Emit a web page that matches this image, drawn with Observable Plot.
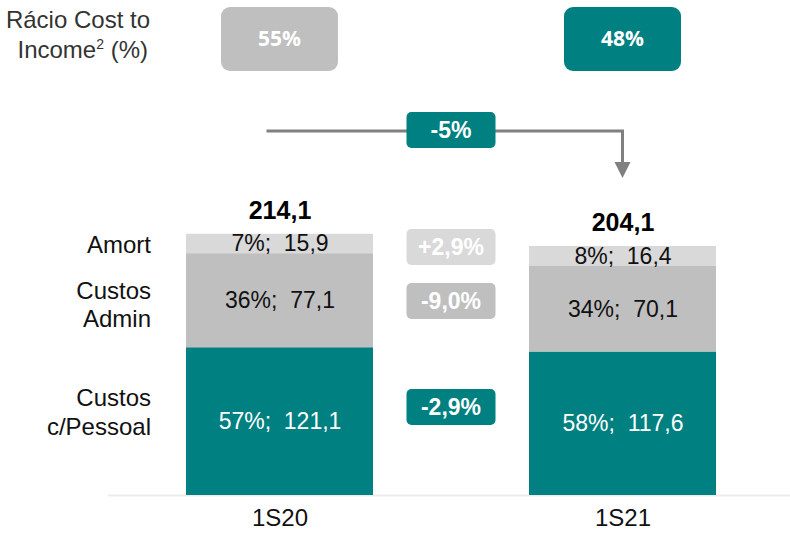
<!DOCTYPE html>
<html><head><meta charset="utf-8">
<script src="https://cdn.jsdelivr.net/npm/d3@7"></script>
<script src="https://cdn.jsdelivr.net/npm/@observablehq/plot@0.6"></script>
<style>
body{margin:0;background:#fff;font-family:"Liberation Sans",Arial,sans-serif;}
#chart svg{display:block;}
</style></head><body><div id="chart"></div>
<script>
// ---- data ----
const periods = ["1S20", "1S21"];
const segmentNames = ["Custos\nc/Pessoal", "Custos\nAdmin", "Amort"];
const personal = [121.1, 117.6];
const admin = [77.1, 70.1];
const amort = [15.9, 16.4];
const sharePersonal = ["57%", "58%"];
const shareAdmin = ["36%", "34%"];
const shareAmort = ["7%", "8%"];
const totals = [214.1, 204.1];
const costToIncome = ["55%", "48%"];
const totalChange = "-5%";
const segmentChanges = ["-2,9%", "-9,0%", "+2,9%"]; // personal, admin, amort

// ---- styles ----
const TEAL = "#008080";
const segColors = ["#008080", "#bfbfbf", "#d9d9d9"];
const segText = ["#ffffff", "#111111", "#111111"];
const FONT = "Liberation Sans, Arial, sans-serif";
const fmt = v => d3.format(".1f")(v).replace(".", ",");

const rows = [];
periods.forEach((p, i) => {
  [[personal, sharePersonal], [admin, shareAdmin], [amort, shareAmort]].forEach(([vals, shares], s) => {
    rows.push({period: p, seg: s, name: segmentNames[s], value: vals[i],
      label: `${shares[i]};\u00a0 ${fmt(vals[i])}`});
  });
});
const totalRows = periods.map((p, i) => ({period: p, total: totals[i], label: fmt(totals[i])}));

const PAD_INNER = 0.455;
const leftNudge = [-10, 3, 0];

const chart = Plot.plot({
  width: 790, height: 534,
  marginTop: 0, marginLeft: 108, marginRight: 0, marginBottom: 39,
  style: {fontFamily: FONT, background: "#fff"},
  x: {type: "band", domain: periods, range: [186, 716], paddingInner: PAD_INNER, paddingOuter: 0, axis: null},
  y: {domain: [0, 405.7], axis: null},
  marks: [
    Plot.ruleY([0], {stroke: "#ebebeb", strokeWidth: 2}),
    Plot.barY(rows, {x: "period", y: "value", fill: d => segColors[d.seg]}),
    Plot.text(rows, Plot.stackY({x: "period", y: "value", text: "label",
      fill: d => segText[d.seg], fontSize: 23, fontFamily: FONT})),
    ...[0, 1, 2].map(s => Plot.text(rows, Plot.stackY({
      x: "period", y: "value", text: (d) => d.period === periods[0] && d.seg === s ? d.name : null,
      textAnchor: "end", dx: -129, dy: leftNudge[s], lineHeight: 1.2,
      fill: "#111", fontSize: 24, fontFamily: FONT}))),
    Plot.text(totalRows, {x: "period", y: "total", text: "label", dy: -23,
      fontWeight: "bold", fontSize: 25, fill: "#000", fontFamily: FONT}),
    Plot.text(periods, {x: d => d, frameAnchor: "bottom", dy: 30, text: d => d,
      fontSize: 24, fill: "#111", fontFamily: FONT})
  ]
});

// ---- annotations placed from the chart's own x scale ----
const xs = chart.scale("x");
const bw = xs.bandwidth;
const c0 = xs.apply(periods[0]) + bw / 2, c1 = xs.apply(periods[1]) + bw / 2, cm = (c0 + c1) / 2;
const g = d3.select(chart).append("g");
const cap = g.append("text").attr("font-family", FONT).attr("font-size", 24)
  .attr("fill", "#333").attr("text-anchor", "end");
cap.append("tspan").attr("x", 150).attr("y", 28).text("Rácio Cost to");
const l2 = cap.append("tspan").attr("x", 148).attr("y", 58);
l2.append("tspan").text("Income");
l2.append("tspan").attr("font-size", 14).attr("dy", -9).text("2");
l2.append("tspan").attr("dy", 9).text(" (%)");
[c0, c1].forEach((c, i) => {
  g.append("rect").attr("x", c - 58.5).attr("y", 7).attr("width", 117).attr("height", 64)
    .attr("rx", 9).attr("fill", i === 0 ? "#bfbfbf" : TEAL);
  g.append("text").attr("x", c).attr("y", 39).attr("dy", "0.35em").attr("text-anchor", "middle")
    .attr("font-family", "Open Sans, sans-serif").attr("font-weight", "bold").attr("font-size", 21)
    .attr("fill", "#fff").text(costToIncome[i]);
});
g.append("path").attr("d", `M${c0 - 13},131H${c1}V163`).attr("fill", "none")
  .attr("stroke", "#808080").attr("stroke-width", 3);
g.append("path").attr("d", `M${c1 - 8},162L${c1 + 8},162L${c1},178Z`).attr("fill", "#808080");
const badge = (cy, fill, txt) => {
  g.append("rect").attr("x", cm - 44.5).attr("y", cy - 18).attr("width", 89).attr("height", 36)
    .attr("rx", 5).attr("fill", fill);
  g.append("text").attr("x", cm).attr("y", cy).attr("dy", "0.36em").attr("text-anchor", "middle")
    .attr("font-family", FONT).attr("font-weight", "bold").attr("font-size", 23)
    .attr("fill", "#fff").text(txt);
};
badge(130, TEAL, totalChange);
badge(247, "#d9d9d9", segmentChanges[2]);
badge(301, "#bfbfbf", segmentChanges[1]);
badge(407, TEAL, segmentChanges[0]);

document.getElementById("chart").append(chart);
</script>
</body></html>
